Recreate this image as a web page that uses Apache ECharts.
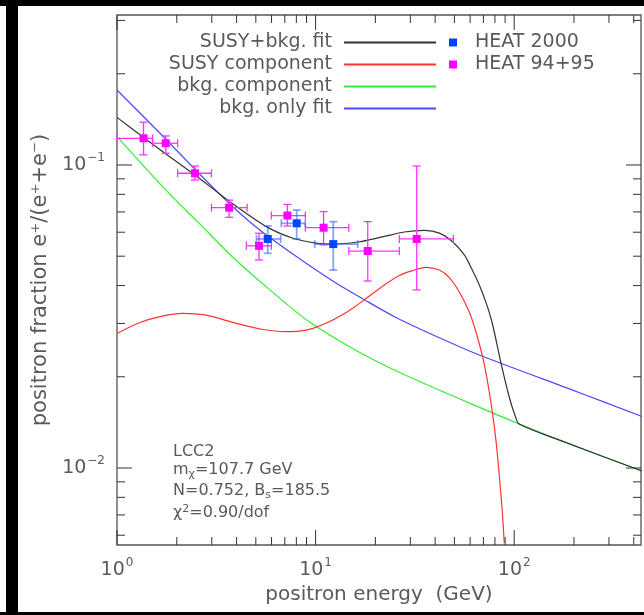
<!DOCTYPE html>
<html><head><meta charset="utf-8">
<script src="https://cdn.jsdelivr.net/npm/echarts@6/dist/echarts.min.js"></script>
<style>html,body{margin:0;padding:0;background:#fff}#c{width:644px;height:615px}</style>
</head><body><div id="c"></div>
<script>
// ---- axis ranges / ticks ----
const xRange = [1, 435];
const yRange = [0.00557, 0.3126];
const xLabelPowers = [0, 1, 2];
const yLabelPowers = [-2, -1];
const xTickMajor = [1, 10, 100];
const xTickMinor = [2,3,4,5,6,7,8,9,20,30,40,50,60,70,80,90,200,300,400];
const yTickMajor = [0.01, 0.1];
const yTickMinor = [0.006,0.007,0.008,0.009,0.02,0.03,0.04,0.05,0.06,0.07,0.08,0.09,0.2,0.3];

// ---- curves (energy GeV, positron fraction) ----
const fitE = [1, 1.35, 1.85, 2.47, 3.7, 5.65, 7.69, 10.08, 12.2, 16.3, 21.7, 28.0, 35.3, 42.0, 48.8, 56.1, 61.5, 66.7, 72.3, 77.5, 85.8, 94.4, 101.2, 106, 168, 440];
const fitF = [0.1436, 0.1237, 0.1063, 0.0927, 0.0757, 0.0626, 0.0573, 0.0552, 0.0548, 0.0557, 0.0579, 0.0601, 0.0608, 0.0596, 0.0559, 0.0505, 0.045, 0.0402, 0.035, 0.0301, 0.0222, 0.01715, 0.01484, 0.01397, 0.01238, 0.00977];
const susyE = [1, 1.305, 1.645, 2.15, 2.77, 4.0, 5.35, 7.12, 8.31, 9.69, 11.5, 13.7, 15.9, 18.0, 22.2, 26.4, 30.7, 36.0, 42.0, 47.1, 52.9, 59.4, 64.4, 69.3, 73.2, 77.8, 81.2, 84.1, 87.0, 89.1];
const susyF = [0.0278, 0.0302, 0.0316, 0.0324, 0.032, 0.030, 0.0287, 0.0282, 0.0283, 0.0289, 0.0302, 0.0321, 0.0342, 0.0363, 0.0402, 0.0432, 0.0448, 0.0459, 0.045, 0.0425, 0.0381, 0.0327, 0.0279, 0.0233, 0.0195, 0.01515, 0.0121, 0.00948, 0.00727, 0.00566];
const bkgE = [1, 1.777, 2.61, 3.82, 5.65, 9.33, 16.6, 29.7, 77.8, 106, 168, 440];
const bkgF = [0.124, 0.0821, 0.0639, 0.0497, 0.0396, 0.0303, 0.0241, 0.01996, 0.0152, 0.01397, 0.01238, 0.00977];
const bkgOnlyE = [1, 1.68, 2.42, 3.36, 4.31, 5.65, 8.31, 12.2, 18.0, 25.4, 42.0, 66.7, 212, 440];
const bkgOnlyF = [0.1768, 0.1256, 0.0981, 0.079, 0.0679, 0.0587, 0.049, 0.0414, 0.0356, 0.0314, 0.0269, 0.0236, 0.01775, 0.01479];

// ---- data points ----
const heat95E   = [1.36, 1.76, 2.47, 3.67, 5.19, 7.21, 10.97, 18.3, 32.3];
const heat95F   = [0.1225, 0.118, 0.0939, 0.0723, 0.0541, 0.0681, 0.0621, 0.052, 0.057];
const heat95ELo = [1.0, 1.51, 2.02, 2.99, 4.48, 5.99, 8.88, 14.7, 26.4];
const heat95EHi = [1.51, 2.02, 2.99, 4.52, 5.99, 8.88, 14.7, 26.4, 49.4];
const heat95FLo = [0.108, 0.1093, 0.0892, 0.0672, 0.0486, 0.0629, 0.0545, 0.0414, 0.0387];
const heat95FHi = [0.1384, 0.1247, 0.0992, 0.0766, 0.0595, 0.0741, 0.0702, 0.065, 0.0992];

const heat00E   = [5.74, 8.03, 12.27];
const heat00F   = [0.057, 0.0642, 0.0548];
const heat00ELo = [5.04, 6.72, 9.89];
const heat00EHi = [6.67, 8.88, 16.3];
const heat00FLo = [0.0511, 0.057, 0.045];
const heat00FHi = [0.0629, 0.071, 0.065];

const seriesNames = ['SUSY+bkg. fit', 'SUSY component', 'bkg. component', 'bkg. only fit'];
const pointNames = ['HEAT 2000', 'HEAT 94+95'];

const FONT = 'DejaVu Sans';
const TXT = '#5a5a5a';

const zip = (a, b) => a.map((v, i) => [v, b[i]]);
const errData = (E, F, El, Eh, Fl, Fh) => E.map((v, i) => [v, F[i], El[i], Eh[i], Fl[i], Fh[i]]);

function fmtPow(powers) {
  return function (v) {
    const L = Math.log10(v);
    const n = Math.round(L);
    if (Math.abs(L - n) > 1e-6 || powers.indexOf(n) < 0) return '';
    return '{b|10}{s|' + (n < 0 ? '\u2212' + (-n) : n) + '}';
  };
}
const labelRich = {
  b: { fontSize: 19, fontFamily: FONT, color: TXT },
  s: { fontSize: 12, fontFamily: FONT, color: TXT, padding: [0, 0, 14, 1] }
};

function tickRenderer(axis, len) {
  return function (params, api) {
    const cs = params.coordSys;
    const p = api.coord([api.value(0), api.value(1)]);
    const st = { stroke: '#333', lineWidth: 1 };
    if (axis === 'x') {
      return { type: 'group', children: [
        { type: 'line', shape: { x1: p[0], y1: cs.y + cs.height, x2: p[0], y2: cs.y + cs.height - len }, style: st },
        { type: 'line', shape: { x1: p[0], y1: cs.y, x2: p[0], y2: cs.y + len }, style: st }
      ]};
    }
    return { type: 'group', children: [
      { type: 'line', shape: { x1: cs.x, y1: p[1], x2: cs.x + len, y2: p[1] }, style: st },
      { type: 'line', shape: { x1: cs.x + cs.width, y1: p[1], x2: cs.x + cs.width - len, y2: p[1] }, style: st }
    ]};
  };
}

function errRenderer(fill, barColor, barWidth) {
  return function (params, api) {
    const c = api.coord([api.value(0), api.value(1)]);
    const l = api.coord([api.value(2), api.value(1)]);
    const r = api.coord([api.value(3), api.value(1)]);
    const b = api.coord([api.value(0), api.value(4)]);
    const t = api.coord([api.value(0), api.value(5)]);
    const cap = 4, half = 4;
    const st = { stroke: barColor, lineWidth: barWidth };
    return { type: 'group', children: [
      { type: 'line', shape: { x1: l[0], y1: c[1], x2: r[0], y2: c[1] }, style: st },
      { type: 'line', shape: { x1: c[0], y1: b[1], x2: c[0], y2: t[1] }, style: st },
      { type: 'line', shape: { x1: l[0], y1: c[1] - cap, x2: l[0], y2: c[1] + cap }, style: st },
      { type: 'line', shape: { x1: r[0], y1: c[1] - cap, x2: r[0], y2: c[1] + cap }, style: st },
      { type: 'line', shape: { x1: c[0] - cap, y1: b[1], x2: c[0] + cap, y2: b[1] }, style: st },
      { type: 'line', shape: { x1: c[0] - cap, y1: t[1], x2: c[0] + cap, y2: t[1] }, style: st },
      { type: 'rect', shape: { x: c[0] - half, y: c[1] - half, width: 2 * half, height: 2 * half }, style: { fill: fill } }
    ]};
  };
}

function lineSeries(name, E, F, color) {
  return { name: name, type: 'line', data: zip(E, F), symbol: 'none', smooth: 0.3,
    lineStyle: { color: color, width: 1.2 }, itemStyle: { color: color }, clip: true, z: 3 };
}

const chart = echarts.init(document.getElementById('c'), null, { renderer: 'canvas' });
chart.setOption({
  animation: false,
  backgroundColor: '#fff',
  grid: { left: 117, top: 15, right: 2, bottom: 70, show: true, borderColor: '#555', borderWidth: 1.3, backgroundColor: 'transparent' },
  xAxis: {
    type: 'log', logBase: 10, min: xRange[0], max: xRange[1],
    axisLine: { show: false }, axisTick: { show: false }, splitLine: { show: false },
    axisLabel: { formatter: fmtPow(xLabelPowers), rich: labelRich, margin: 12 },
    name: 'positron energy  (GeV)', nameLocation: 'middle', nameGap: 40,
    nameTextStyle: { fontSize: 20, fontFamily: FONT, color: TXT }
  },
  yAxis: {
    type: 'log', logBase: 10, min: yRange[0], max: yRange[1],
    axisLine: { show: false }, axisTick: { show: false }, splitLine: { show: false },
    axisLabel: { formatter: fmtPow(yLabelPowers), rich: labelRich, margin: 12 },
    name: 'positron fraction e\u207A/(e\u207A+e\u207B)', nameLocation: 'middle', nameGap: 62, nameRotate: 90,
    nameTextStyle: { fontSize: 21, fontFamily: FONT, color: TXT }
  },
  legend: [
    { data: seriesNames, orient: 'vertical', align: 'right', right: 207, top: 33, padding: 0,
      itemWidth: 92, itemHeight: 10, itemGap: 3, selectedMode: false,
      itemStyle: { color: 'rgba(0,0,0,0)', borderWidth: 0, opacity: 0 },
      textStyle: { fontSize: 19, fontFamily: FONT, color: TXT, lineHeight: 19, padding: [0, 7, 0, 0] } },
    { data: pointNames, orient: 'vertical', align: 'left', left: 449, top: 33, padding: 0,
      itemWidth: 8, itemHeight: 8, itemGap: 3, icon: 'rect', selectedMode: false,
      textStyle: { fontSize: 19, fontFamily: FONT, color: TXT, lineHeight: 19, padding: [0, 0, 0, 13] } }
  ],
  graphic: [
    { type: 'rect', shape: { x: 0, y: 0, width: 644, height: 6 }, style: { fill: '#000' }, silent: true },
    { type: 'rect', shape: { x: 6, y: 0, width: 12, height: 612 }, style: { fill: '#000' }, silent: true },
    { type: 'rect', shape: { x: 0, y: 612, width: 644, height: 3 }, style: { fill: '#000' }, silent: true },
    { type: 'text', x: 173, y: 452, style: { text: 'LCC2', fontSize: 16, fontFamily: FONT, fill: TXT, verticalAlign: 'middle' } },
    { type: 'text', x: 173, y: 470, style: { text: 'm{sub|\u03C7}=107.7 GeV', fontSize: 16, fontFamily: FONT, fill: TXT, verticalAlign: 'middle',
        rich: { sub: { fontSize: 11, fontFamily: FONT, fill: TXT, padding: [9, 0, 0, 0] } } } },
    { type: 'text', x: 173, y: 491, style: { text: 'N=0.752, B{sub|s}=185.5', fontSize: 16, fontFamily: FONT, fill: TXT, verticalAlign: 'middle',
        rich: { sub: { fontSize: 11, fontFamily: FONT, fill: TXT, padding: [9, 0, 0, 0] } } } },
    { type: 'text', x: 173, y: 513, style: { text: '\u03C7{sup|2}=0.90/dof', fontSize: 16, fontFamily: FONT, fill: TXT, verticalAlign: 'middle',
        rich: { sup: { fontSize: 11, fontFamily: FONT, fill: TXT, padding: [0, 0, 8, 0] } } } }
  ],
  series: [
    { name: 'xMajorTicks', type: 'custom', data: xTickMajor.map(v => [v, yRange[0]]), renderItem: tickRenderer('x', 15), silent: true, z: 5 },
    { name: 'xMinorTicks', type: 'custom', data: xTickMinor.map(v => [v, yRange[0]]), renderItem: tickRenderer('x', 8), silent: true, z: 5 },
    { name: 'yMajorTicks', type: 'custom', data: yTickMajor.map(v => [xRange[0], v]), renderItem: tickRenderer('y', 15), silent: true, z: 5 },
    { name: 'yMinorTicks', type: 'custom', data: yTickMinor.map(v => [xRange[0], v]), renderItem: tickRenderer('y', 8), silent: true, z: 5 },
    lineSeries(seriesNames[2], bkgE, bkgF, '#33ee33'),
    lineSeries(seriesNames[3], bkgOnlyE, bkgOnlyF, '#4a4aff'),
    lineSeries(seriesNames[1], susyE, susyF, '#ff3333'),
    lineSeries(seriesNames[0], fitE, fitF, '#333333'),
    { name: pointNames[1], type: 'custom', data: errData(heat95E, heat95F, heat95ELo, heat95EHi, heat95FLo, heat95FHi),
      renderItem: errRenderer('#ff00ff', '#ff33ff', 1.3), itemStyle: { color: '#ff00ff' }, z: 4 },
    { name: pointNames[0], type: 'custom', data: errData(heat00E, heat00F, heat00ELo, heat00EHi, heat00FLo, heat00FHi),
      renderItem: errRenderer('#0044ff', 'rgba(40,90,255,0.55)', 1.8), itemStyle: { color: '#0044ff' }, z: 4 }
  ]
});
</script></body></html>
